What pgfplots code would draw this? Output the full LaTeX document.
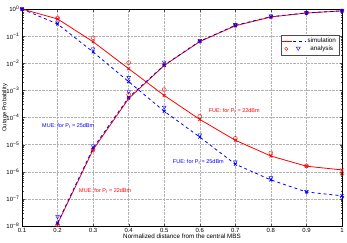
\documentclass[border=0pt]{standalone}
\usepackage{fontspec}
\setmainfont{Liberation Sans}
\usepackage{pgfplots}
\pgfplotsset{compat=1.18}
\begin{document}
\begin{tikzpicture}
\begin{semilogyaxis}[
  scale only axis, width=320bp, height=217bp,
  xmin=0.1, xmax=1, ymin=1e-8, ymax=1,
  xtick={0.1,0.2,0.3,0.4,0.5,0.6,0.7,0.8,0.9,1},
  xticklabels={0.1,0.2,0.3,0.4,0.5,0.6,0.7,0.8,0.9,1},
  ytick={1e-8,1e-7,1e-6,1e-5,1e-4,1e-3,1e-2,1e-1,1},
  yticklabels={10\textsuperscript{−8},10\textsuperscript{−7},10\textsuperscript{−6},10\textsuperscript{−5},10\textsuperscript{−4},10\textsuperscript{−3},10\textsuperscript{−2},10\textsuperscript{−1},10\textsuperscript{0}},
  grid=major, major grid style={densely dotted, gray!60},
  tick align=inside,
  major tick length=2.5bp, minor tick length=1.5bp,
  tick style={black!70},
  font=\fontsize{6}{7}\selectfont,
  xticklabel style={anchor=north, inner sep=0pt, yshift=-2bp},
  yticklabel style={anchor=east, inner sep=0pt, xshift=-2.5bp},
  xlabel={Normalized distance from the central MBS},
  ylabel={Outage Probability},
  xlabel style={at={(axis description cs:0.5,0)}, anchor=center, yshift=-10bp, font=\fontsize{6.3}{7}\selectfont},
  ylabel style={at={(axis description cs:0,0.545)}, anchor=center, rotate=0, yshift=17bp, font=\fontsize{5.8}{7}\selectfont},
  legend style={at={(0.991,0.880)}, anchor=north east, font=\fontsize{6.3}{6.5}\selectfont, draw=black!70, inner sep=1pt, row sep=-2.5bp, fill=white},
]
\addlegendimage{legend image code/.code={\draw[red, thick] (0bp,0bp) -- (10bp,0bp); \draw[blue, thick, dashed] (11bp,0bp) -- (23bp,0bp);}}
\addlegendentry{simulation}
\addlegendimage{legend image code/.code={\draw[red] (4bp,0bp) circle (1.7bp); \draw[blue] (16bp,-1.6bp) -- (18bp,1.6bp) -- (14bp,1.6bp) -- cycle;}}
\addlegendentry{analysis}
% FUE 22 dBm (falling, red)
\addplot[red, thick, mark=x, mark size=2bp, forget plot] coordinates {(0.1,1)(0.2,0.43)(0.3,0.062)(0.4,6.3e-3)(0.5,6.5e-4)(0.6,8.5e-5)(0.7,1.45e-5)(0.8,3.8e-6)(0.9,1.6e-6)(1.0,1.17e-6)};
\addplot[red, only marks, mark=o, mark size=2bp, forget plot] coordinates {(0.1,1)(0.2,0.47)(0.3,0.087)(0.4,1.05e-2)(0.5,1.07e-3)(0.6,1.1e-4)(0.7,1.7e-5)(0.8,4.9e-6)(0.9,1.65e-6)(1.0,8.5e-7)};
% MUE 25 dBm (falling, blue)
\addplot[blue, thick, dashed, mark=x, mark size=2bp, mark options={solid}, forget plot] coordinates {(0.1,1)(0.2,0.28)(0.3,0.026)(0.4,2.1e-3)(0.5,1.7e-4)(0.6,1.9e-5)(0.7,1.9e-6)(0.8,5e-7)(0.9,1.8e-7)(1.0,1.3e-7)};
\addplot[blue, only marks, mark=triangle, mark size=2.2bp, mark options={rotate=180}, forget plot] coordinates {(0.1,1)(0.2,0.33)(0.3,0.034)(0.4,3e-3)(0.5,2.4e-4)(0.6,2.3e-5)(0.7,2.3e-6)(0.8,6e-7)(0.9,1.9e-7)(1.0,1.1e-7)};
% MUE 22 dBm (rising, red)
\addplot[red, thick, mark=x, mark size=2bp, forget plot] coordinates {(0.2,1.2e-8)(0.3,6.5e-6)(0.4,5e-4)(0.5,8.3e-3)(0.6,0.063)(0.7,0.24)(0.8,0.51)(0.9,0.71)(1.0,0.85)};
\addplot[red, only marks, mark=o, mark size=2bp, forget plot] coordinates {(0.2,1.1e-8)(0.3,6.5e-6)(0.4,7e-4)(0.5,9e-3)(0.6,0.065)(0.7,0.25)(0.8,0.52)(0.9,0.72)(1.0,0.86)};
% FUE 25 dBm (rising, blue)
\addplot[blue, thick, dashed, mark=x, mark size=2bp, mark options={solid}, forget plot] coordinates {(0.2,1.3e-8)(0.3,7.5e-6)(0.4,5.5e-4)(0.5,8.5e-3)(0.6,0.065)(0.7,0.25)(0.8,0.52)(0.9,0.72)(1.0,0.86)};
\addplot[blue, only marks, mark=triangle, mark size=2.2bp, mark options={rotate=180}, forget plot] coordinates {(0.2,2.2e-8)(0.3,9e-6)(0.4,9e-4)(0.5,1.1e-2)(0.6,0.07)(0.7,0.27)(0.8,0.55)(0.9,0.73)(1.0,0.86)};
\node[blue, font=\fontsize{5.5}{6}\selectfont] at (axis cs:0.23,4.8e-5) {MUE: for P\textsubscript{f} = 25dBm};
\node[red, font=\fontsize{5.5}{6}\selectfont] at (axis cs:0.334,2e-7) {MUE: for P\textsubscript{f} = 22dBm};
\node[red, font=\fontsize{5.5}{6}\selectfont] at (axis cs:0.697,1.8e-4) {FUE: for P\textsubscript{f} = 22dBm};
\node[blue, font=\fontsize{5.5}{6}\selectfont] at (axis cs:0.596,2.3e-6) {FUE: for P\textsubscript{f} = 25dBm};
\end{semilogyaxis}
\pgfresetboundingbox
\path[use as bounding box] ([xshift=-22bp,yshift=-17bp]current axis.south west) rectangle ([xshift=5bp,yshift=9bp]current axis.north east);
\end{tikzpicture}
\end{document}
